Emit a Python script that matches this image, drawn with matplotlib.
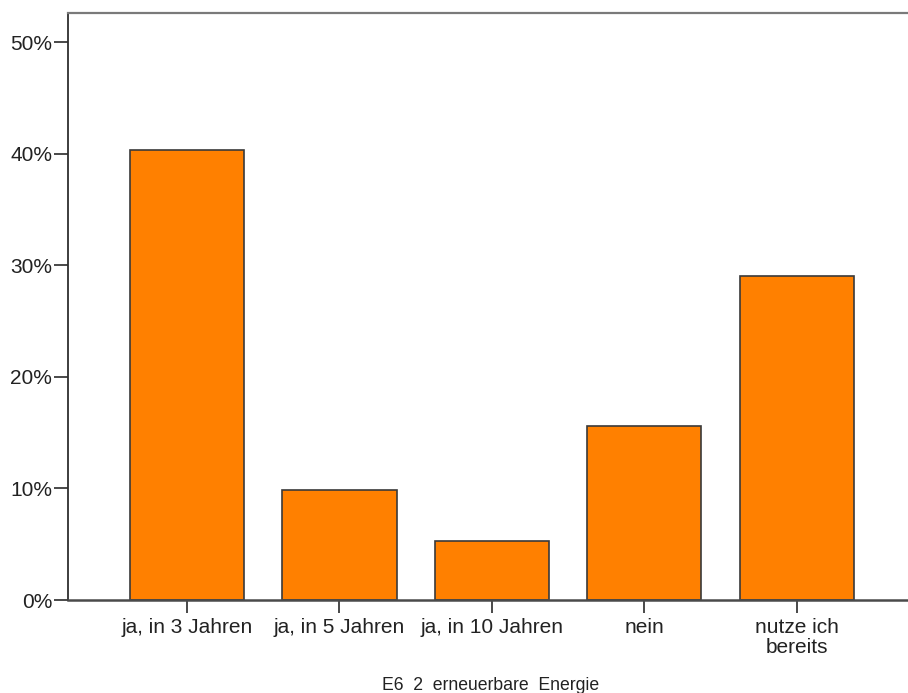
import matplotlib.pyplot as plt

kategorien = ['ja, in 3 Jahren', 'ja, in 5 Jahren', 'ja, in 10 Jahren', 'nein', 'nutze ich\nbereits']
prozent = [40.3, 9.9, 5.3, 15.6, 29.0]
y_ticks = [0, 10, 20, 30, 40, 50]
y_labels = ['0%', '10%', '20%', '30%', '40%', '50%']

plt.rcParams['font.family'] = ['Liberation Sans', 'DejaVu Sans']

fig = plt.figure(figsize=(9.08, 6.93), dpi=100)
ax = fig.add_axes([68/908, 1 - 600/693, 1 - 68/908, (600 - 13)/693])

pos = list(range(len(kategorien)))
ax.bar(pos, prozent, width=0.75, color='#ff8000', edgecolor='#3a3a3a', linewidth=1.2, zorder=2)

ax.set_xlim(-0.78, 4.73)
ax.set_ylim(0, 52.6)

ax.set_yticks(y_ticks)
ax.set_yticklabels(y_labels)
ax.set_xticks(pos)
ax.set_xticklabels(kategorien, linespacing=1.1)

ax.tick_params(axis='y', length=10, width=1.3, color='#3a3a3a', pad=1.5, labelsize=15, labelcolor='#222222')
ax.tick_params(axis='x', length=9.5, width=1.3, color='#3a3a3a', pad=3.2, labelsize=15, labelcolor='#222222')

ax.spines['right'].set_visible(False)
ax.spines['top'].set_color('#7a7a7a')
ax.spines['top'].set_linewidth(1.6)
ax.spines['left'].set_color('#2e2e2e')
ax.spines['left'].set_linewidth(1.3)
ax.spines['bottom'].set_color('#4a4a4a')
ax.spines['bottom'].set_linewidth(1.8)

fig.text((382 + 600) / 2 / 908, 1 - 685/693, 'E6  2  erneuerbare  Energie',
	ha='center', va='center', fontsize=12.7, color='#222222')

fig.savefig('out.png', dpi=100)
